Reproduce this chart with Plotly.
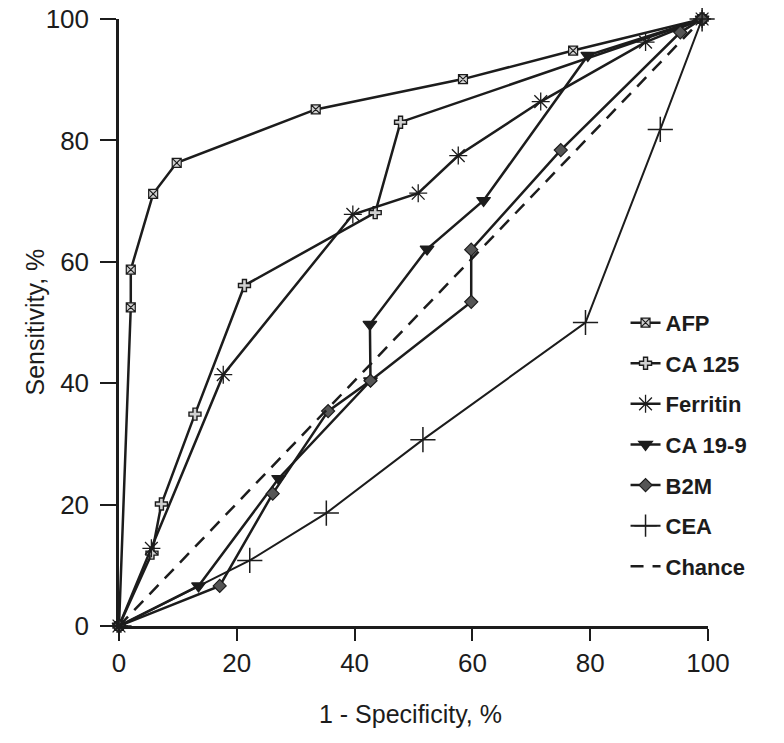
import plotly.graph_objects as go

afp_x = [0, 2, 2, 5.8, 9.8, 33.4, 58.4, 77.1, 99]
afp_y = [0, 52.5, 58.7, 71.2, 76.3, 85.1, 90.1, 94.8, 100]

ca125_x = [0, 5.6, 7.2, 12.9, 21.3, 43.5, 47.8, 99]
ca125_y = [0, 12, 20.1, 34.9, 56.1, 68.1, 83, 100]

ferritin_x = [0, 5.5, 17.7, 39.7, 50.8, 57.6, 71.6, 89.4, 99]
ferritin_y = [0, 12.8, 41.4, 67.8, 71.3, 77.5, 86.4, 96.2, 100]

ca199_x = [0, 13.5, 27.1, 42.7, 42.6, 52.3, 61.9, 79.6, 99]
ca199_y = [0, 6.6, 24.3, 40.4, 49.7, 62.1, 70.1, 94, 100]

b2m_x = [0, 17.1, 26.1, 35.5, 42.7, 59.8, 59.8, 75, 95.3, 99]
b2m_y = [0, 6.6, 21.8, 35.4, 40.4, 53.4, 62, 78.4, 97.8, 100]

cea_x = [0, 22.2, 35.2, 51.6, 79.2, 91.9, 99]
cea_y = [0, 10.8, 18.6, 30.7, 50, 81.8, 100]

chance_x = [0, 99]
chance_y = [0, 100]

x_ticks = [0, 20, 40, 60, 80, 100]
y_ticks = [0, 20, 40, 60, 80, 100]

INK = "#1c1c1c"
FONT = "Liberation Sans"

fig = go.Figure()

def add(name, xs, ys, symbol, size, fill, lw=2.5, mlw=1.2, dash="solid"):
    fig.add_trace(go.Scatter(
        x=xs, y=ys, name=name, legendgroup=name,
        mode="lines+markers" if symbol else "lines",
        line=dict(color=INK, width=lw, dash=dash),
        marker=dict(symbol=symbol or "circle", size=size, color=fill,
                    line=dict(color=INK, width=mlw)),
        cliponaxis=False,
    ))

add("AFP", afp_x, afp_y, "square-x", 9, "#d0d0d0")
add("CA 125", ca125_x, ca125_y, "cross", 10, "#d0d0d0", mlw=1.4)
add("Ferritin", ferritin_x, ferritin_y, "asterisk-open", 15, INK, mlw=1.3)
add("CA 19-9", ca199_x, ca199_y, "triangle-down", 12, INK)
add("B2M", b2m_x, b2m_y, "diamond", 10, "#555555")
add("CEA", cea_x, cea_y, "cross-thin-open", 18, INK, lw=2.0, mlw=1.5)
add("Chance", chance_x, chance_y, None, 0, INK, lw=2.5, dash="13px,9px")

fig.update_layout(
    width=784, height=743,
    margin=dict(l=111, r=84, t=11, b=125, autoexpand=False),
    paper_bgcolor="white", plot_bgcolor="white",
    font=dict(family=FONT, color=INK),
    showlegend=True,
    legend=dict(
        x=0.86, y=0.534, xanchor="left", yanchor="top",
        font=dict(size=22, family=FONT, weight="bold", color=INK),
        tracegroupgap=9, bgcolor="rgba(0,0,0,0)", itemwidth=30,
    ),
    annotations=[
        dict(text="1 - Specificity, %", xref="paper", yref="paper", x=0.495, y=-0.145,
             xanchor="center", yanchor="middle", showarrow=False,
             font=dict(size=25, family=FONT, color=INK)),
        dict(text="Sensitivity, %", xref="paper", yref="paper", x=-0.1443, y=0.5,
             xanchor="center", yanchor="middle", showarrow=False, textangle=-90,
             font=dict(size=25, family=FONT, color=INK)),
    ],
)

fig.update_xaxes(
    range=[0, 100], tickvals=x_ticks, ticktext=[str(v) for v in x_ticks], automargin=False,
    showgrid=False, zeroline=False, showline=True, linecolor=INK, linewidth=2.5,
    ticks="outside", ticklen=12, tickwidth=2, tickcolor=INK, ticklabeloverflow="allow",
    tickfont=dict(size=26, family=FONT, color=INK),
)
fig.update_yaxes(
    range=[0, 100], tickvals=y_ticks, ticktext=[str(v) for v in y_ticks], automargin=False,
    showgrid=False, zeroline=False, showline=True, linecolor=INK, linewidth=2.5,
    ticks="outside", ticklen=16, tickwidth=2, tickcolor=INK, ticklabeloverflow="allow",
    tickfont=dict(size=26, family=FONT, color=INK), ticklabelstandoff=6,
)

fig.write_html("out.html")
